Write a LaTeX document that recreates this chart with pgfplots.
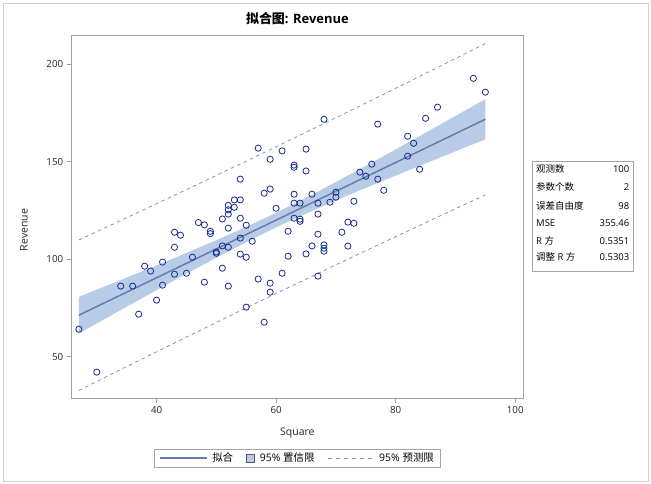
\documentclass[border=0pt]{standalone}
\usepackage{pgfplots}
\pgfplotsset{compat=1.18}
\usepackage{fontspec}
\setmainfont{Open Sans}
\newfontfamily\cjk{Noto Sans CJK SC}
\definecolor{mk}{RGB}{22,44,140}
\definecolor{fitc}{RGB}{104,124,172}
\definecolor{cib}{RGB}{184,204,232}
\definecolor{predc}{RGB}{140,140,192}
\definecolor{framec}{RGB}{160,160,160}

\pgfplotstableread{
x y
27 64.1
30 42.1
34 86.2
36 86.2
37 71.8
38 96.4
39 93.9
40 79.0
41 98.5
41 86.7
43 113.8
44 112.3
43 106.1
43 92.3
45 92.8
46 101.0
47 118.8
48 117.6
48 88.2
49 114.3
49 113.1
50 103.7
50 103.0
51 120.6
51 106.8
51 95.4
52 127.6
52 125.3
52 123.1
52 115.9
52 106.1
52 86.2
53 130.4
53 126.6
54 141.0
54 130.4
54 121.0
54 110.8
54 102.6
55 117.4
55 101.0
55 75.4
56 109.2
57 156.9
57 89.8
58 133.8
58 67.7
59 151.2
59 135.9
59 87.7
59 83.1
60 126.1
61 155.5
61 92.8
62 114.3
62 101.5
63 148.2
63 147.1
63 133.3
63 128.7
63 121.0
64 128.7
64 120.5
64 119.4
65 156.4
65 145.2
65 102.7
66 133.3
66 106.8
67 128.7
67 123.1
67 112.8
67 91.3
68 171.7
68 107.3
68 105.6
68 104.1
69 129.2
70 134.3
70 131.8
71 113.8
72 119.0
72 106.7
73 129.7
73 118.4
74 144.6
75 142.5
76 148.7
77 141.0
77 169.2
78 135.3
82 163.0
82 152.8
83 159.4
84 146.1
85 172.2
87 177.9
93 192.7
95 185.6
}\pts

\begin{document}
\begin{tikzpicture}[x=1bp,y=1bp]
\path[use as bounding box] (0,0) rectangle (651,484);
\fill[white] (0,0) rectangle (651,484);
\draw[black!18, line width=0.8pt] (3,3) rectangle (648,481);
\begin{axis}[
  at={(71.7bp,85.7bp)}, anchor=south west,
  scale only axis, width=451.3bp, height=363.3bp,
  xmin=25.8, xmax=101.3, ymin=28.7, ymax=214.9,
  xtick={40,60,80,100}, ytick={50,100,150,200},
  tick align=outside, xtick pos=bottom, ytick pos=left,
  major tick length=5bp,
  axis line style={framec, line width=0.8pt},
  every tick/.style={framec, line width=0.8pt},
  tick label style={font=\fontsize{9.8}{11}\selectfont, text=black!85},
  /pgf/number format/assume math mode=true,
  xlabel={Square}, ylabel={Revenue},
  label style={font=\fontsize{10.5}{12}\selectfont, text=black!85},
  xlabel style={at={(axis description cs:0.5,-0.0955)}, anchor=center},
  ylabel style={at={(axis description cs:-0.1057,0.463)}, anchor=center},
  legend style={at={(axis description cs:0.5,-0.165)}, anchor=center,
    legend columns=3, draw=black!35, line width=0.6pt,
    font=\fontsize{10.5}{12}\selectfont, inner xsep=4bp, inner ysep=2bp,
    /tikz/every odd column/.append style={column sep=3bp},
    /tikz/every even column/.append style={column sep=11bp}},
  clip=true,
]
\addlegendimage{legend image code/.code={\draw[fitc, line width=1.5pt] (0bp,0bp) -- (47bp,0bp);}}
\addlegendentry{{\cjk 拟合}}
\addlegendimage{legend image code/.code={\draw[fill=cib, draw=black!65, line width=0.6pt] (0bp,-4bp) rectangle (8bp,4bp);}}
\addlegendentry{95\% {\cjk 置信限}}
\addlegendimage{legend image code/.code={\draw[predc, line width=0.8pt, dash pattern=on 4bp off 4bp] (0bp,0bp) -- (46bp,0bp);}}
\addlegendentry{95\% {\cjk 预测限}}

% 95% confidence band
\addplot[fill=cib, draw=none, forget plot] coordinates {
(27,80.68) (30,84.38) (35,90.58) (40,96.84) (45,103.20) (50,109.73) (55,116.55) (60,123.77)
(65,131.46) (70,139.52) (75,147.83) (80,156.27) (85,164.81) (90,173.39) (95,182.01)
(95,161.43) (90,155.27) (85,149.09) (80,142.85) (75,136.53) (70,130.06) (65,123.36) (60,116.27)
(55,108.73) (50,100.77) (45,92.54) (40,84.12) (35,75.62) (30,67.04) (27,61.88)
} -- cycle;
% prediction limits
\addplot[predc, line width=0.8pt, dash pattern=on 3.5bp off 3.5bp, forget plot] coordinates {
(27,109.84) (35,121.24) (45,135.65) (55,150.24) (60,157.61) (70,172.49) (80,187.56) (90,202.81) (95,210.51)};
\addplot[predc, line width=0.8pt, dash pattern=on 3.5bp off 3.5bp, forget plot] coordinates {
(27,32.72) (35,44.96) (45,60.09) (55,75.04) (60,82.43) (70,97.09) (80,111.56) (90,125.85) (95,132.93)};
% fit
\addplot[fitc, line width=1.5pt, forget plot] coordinates {
(27,71.28) (35,83.10) (45,97.87) (55,112.64) (60,120.02) (70,134.79) (80,149.56) (90,164.33) (95,171.72)};
% observations
\addplot[only marks, mark=o, mark size=3.1bp, mark options={mk, line width=0.8pt}, forget plot] table {\pts};
\end{axis}

\node[font=\fontsize{13}{15}\selectfont\bfseries] at (297.4,465) {{\cjk\bfseries 拟合图}: Revenue};

% statistics box
\draw[black!35, line width=0.6pt] (532,323) rectangle (633,213);
\begin{scope}[every node/.style={font=\fontsize{9.5}{10}\selectfont, inner sep=0pt}]
\node[anchor=west] at (536,315) {\cjk 观测数};
\node[anchor=east] at (629.5,315) {100};
\node[anchor=west] at (536,296.7) {\cjk 参数个数};
\node[anchor=east] at (629.5,296.7) {2};
\node[anchor=west] at (536,278.3) {\cjk 误差自由度};
\node[anchor=east] at (629.5,278.3) {98};
\node[anchor=west] at (536,260.7) {MSE};
\node[anchor=east] at (629.5,260.7) {355.46};
\node[anchor=west] at (536,243.3) {R {\cjk 方}};
\node[anchor=east] at (629.5,243.3) {0.5351};
\node[anchor=west] at (536,226.7) {{\cjk 调整} R {\cjk 方}};
\node[anchor=east] at (629.5,226.7) {0.5303};
\end{scope}
\end{tikzpicture}
\end{document}
